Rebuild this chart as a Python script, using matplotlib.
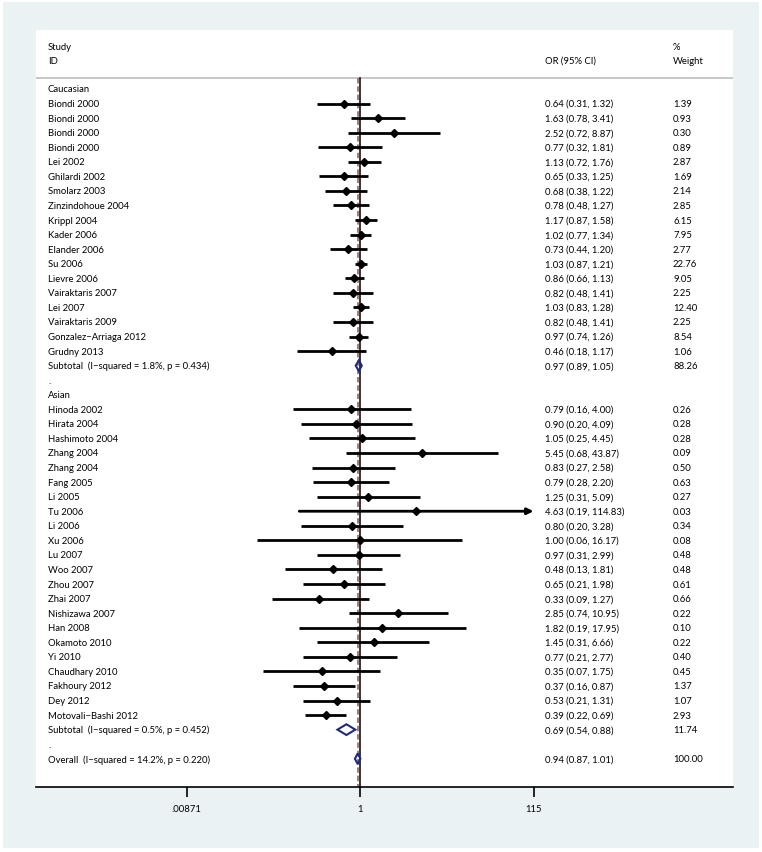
import numpy as np
import matplotlib.pyplot as plt
from matplotlib.patches import Rectangle, Polygon

W, H, DPI = 762, 853, 100

plt.rcParams['font.family'] = ['Lato', 'DejaVu Sans']
FS = 6.8

# Caucasian studies
cau_study = ["Biondi 2000", "Biondi 2000", "Biondi 2000", "Biondi 2000", "Lei 2002",
             "Ghilardi 2002", "Smolarz 2003", "Zinzindohoue 2004", "Krippl 2004",
             "Kader 2006", "Elander 2006", "Su 2006", "Lievre 2006", "Vairaktaris 2007",
             "Lei 2007", "Vairaktaris 2009", "Gonzalez\u2212Arriaga 2012", "Grudny 2013"]
cau_or = [0.64, 1.63, 2.52, 0.77, 1.13, 0.65, 0.68, 0.78, 1.17, 1.02, 0.73, 1.03,
          0.86, 0.82, 1.03, 0.82, 0.97, 0.46]
cau_lo = [0.31, 0.78, 0.72, 0.32, 0.72, 0.33, 0.38, 0.48, 0.87, 0.77, 0.44, 0.87,
          0.66, 0.48, 0.83, 0.48, 0.74, 0.18]
cau_hi = [1.32, 3.41, 8.87, 1.81, 1.76, 1.25, 1.22, 1.27, 1.58, 1.34, 1.20, 1.21,
          1.13, 1.41, 1.28, 1.41, 1.26, 1.17]
cau_wt = [1.39, 0.93, 0.30, 0.89, 2.87, 1.69, 2.14, 2.85, 6.15, 7.95, 2.77, 22.76,
          9.05, 2.25, 12.40, 2.25, 8.54, 1.06]

# Asian studies
asi_study = ["Hinoda 2002", "Hirata 2004", "Hashimoto 2004", "Zhang 2004", "Zhang 2004",
             "Fang 2005", "Li 2005", "Tu 2006", "Li 2006", "Xu 2006", "Lu 2007", "Woo 2007",
             "Zhou 2007", "Zhai 2007", "Nishizawa 2007", "Han 2008", "Okamoto 2010",
             "Yi 2010", "Chaudhary 2010", "Fakhoury 2012", "Dey 2012", "Motovali\u2212Bashi 2012"]
asi_or = [0.79, 0.90, 1.05, 5.45, 0.83, 0.79, 1.25, 4.63, 0.80, 1.00, 0.97, 0.48,
          0.65, 0.33, 2.85, 1.82, 1.45, 0.77, 0.35, 0.37, 0.53, 0.39]
asi_lo = [0.16, 0.20, 0.25, 0.68, 0.27, 0.28, 0.31, 0.19, 0.20, 0.06, 0.31, 0.13,
          0.21, 0.09, 0.74, 0.19, 0.31, 0.21, 0.07, 0.16, 0.21, 0.22]
asi_hi = [4.00, 4.09, 4.45, 43.87, 2.58, 2.20, 5.09, 114.83, 3.28, 16.17, 2.99, 1.81,
          1.98, 1.27, 10.95, 17.95, 6.66, 2.77, 1.75, 0.87, 1.31, 0.69]
asi_wt = [0.26, 0.28, 0.28, 0.09, 0.50, 0.63, 0.27, 0.03, 0.34, 0.08, 0.48, 0.48,
          0.61, 0.66, 0.22, 0.10, 0.22, 0.40, 0.45, 1.37, 1.07, 2.93]

# pooled estimates: Caucasian subtotal, Asian subtotal, overall
pool_label = ["Subtotal  (I\u2212squared = 1.8%, p = 0.434)",
              "Subtotal  (I\u2212squared = 0.5%, p = 0.452)",
              "Overall  (I\u2212squared = 14.2%, p = 0.220)"]
pool_or = [0.97, 0.69, 0.94]
pool_lo = [0.89, 0.54, 0.87]
pool_hi = [1.05, 0.88, 1.01]
pool_wt = [88.26, 11.74, 100.00]

xticks = [0.00871, 1, 115]
xtick_labels = [".00871", "1", "115"]

# build the row list
rows = [("head", "Caucasian")]
for i in range(len(cau_study)):
    rows.append(("study", cau_study[i], cau_or[i], cau_lo[i], cau_hi[i], cau_wt[i]))
rows.append(("pool", pool_label[0], pool_or[0], pool_lo[0], pool_hi[0], pool_wt[0]))
rows.append(("head", "."))
rows.append(("head", "Asian"))
for i in range(len(asi_study)):
    rows.append(("study", asi_study[i], asi_or[i], asi_lo[i], asi_hi[i], asi_wt[i]))
rows.append(("pool", pool_label[1], pool_or[1], pool_lo[1], pool_hi[1], pool_wt[1]))
rows.append(("head", "."))
rows.append(("pool", pool_label[2], pool_or[2], pool_lo[2], pool_hi[2], pool_wt[2]))

fig = plt.figure(figsize=(W / DPI, H / DPI), dpi=DPI)
fig.patch.set_facecolor("white")
fig.add_artist(Rectangle((3 / W, 1 - 849 / H), 756 / W, 846 / H, transform=fig.transFigure,
                         facecolor="#eaf2f3", edgecolor="none", zorder=0))

ax = fig.add_axes([36 / W, 1 - 788 / H, 697 / W, 757 / H])
ax.set_facecolor("white")

# pixel layout -> data limits
row0, step = 90.0, 14.56
k, x1 = 36.57, 360.0
ax.set_xscale("log")
ax.set_xlim(np.exp((36 - x1) / k), np.exp((733 - x1) / k))
ax.set_ylim((788 - row0) / step, (31 - row0) / step)
hline_y = (79 - row0) / step
ybot = (788 - row0) / step

lab_x, or_x, wt_x = 12 / 697, 509 / 697, 637 / 697
tr = ax.get_yaxis_transform()

ax.text(lab_x, (47 - row0) / step, "Study", transform=tr, fontsize=FS, va="center")
ax.text(lab_x, (61 - row0) / step, "ID", transform=tr, fontsize=FS, va="center")
ax.text(or_x, (61 - row0) / step, "OR (95% CI)", transform=tr, fontsize=FS, va="center")
ax.text(wt_x, (47 - row0) / step, "%", transform=tr, fontsize=FS, va="center")
ax.text(wt_x, (61 - row0) / step, "Weight", transform=tr, fontsize=FS, va="center")
ax.axhline(hline_y, color="#bdbdbd", lw=1.2, zorder=1)

# reference lines
ax.plot([1, 1], [hline_y, ybot], color="black", lw=1.1, zorder=2)
ax.plot([pool_or[2]] * 2, [hline_y, ybot], color="#a07070", lw=1.3,
        dashes=(3, 1.6), zorder=2)

xmax_axis = xticks[-1]
for r, row in enumerate(rows):
    ax.text(lab_x, r, row[1], transform=tr, fontsize=FS, va="center")
    if row[0] == "head":
        continue
    est, lo, hi, wt = row[2], row[3], row[4], row[5]
    ax.text(or_x, r, f"{est:.2f} ({lo:.2f}, {hi:.2f})", transform=tr, fontsize=FS, va="center")
    ax.text(wt_x, r, f"{wt:.2f}", transform=tr, fontsize=FS, va="center")
    if row[0] == "study":
        if hi > 100:
            ax.annotate("", xy=(xmax_axis, r), xytext=(lo, r),
                        arrowprops=dict(arrowstyle="-|>", color="black", lw=2.0,
                                        mutation_scale=9, shrinkA=0, shrinkB=0), zorder=3)
        else:
            ax.plot([lo, hi], [r, r], color="black", lw=2.0, solid_capstyle="butt", zorder=3)
        ax.plot(est, r, marker="D", color="black", ms=4.2, zorder=4)
    else:
        h = 0.37
        ax.add_patch(Polygon([(lo, r), (est, r - h), (hi, r), (est, r + h)], closed=True,
                             facecolor="none", edgecolor="#1f2a78", lw=1.5, zorder=4))

for s in ["top", "left", "right"]:
    ax.spines[s].set_visible(False)
ax.spines["bottom"].set_linewidth(1.2)
ax.set_yticks([])
ax.set_xticks(xticks)
ax.set_xticklabels(xtick_labels, fontsize=FS)
ax.minorticks_off()
ax.tick_params(axis="x", direction="out", length=7.5, width=1.2, pad=5)

fig.savefig("out.png", dpi=DPI, facecolor="white")
